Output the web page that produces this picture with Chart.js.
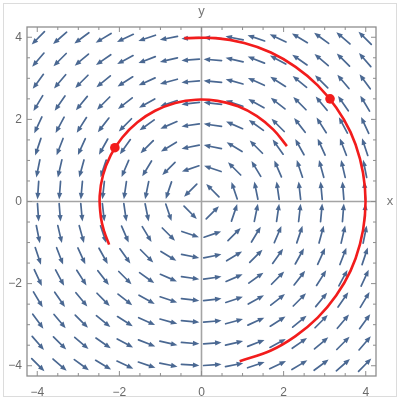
<!DOCTYPE html>
<html>
<head>
<meta charset="utf-8">
<script src="https://cdn.jsdelivr.net/npm/chart.js@4"></script>
<style>
  html, body { margin: 0; padding: 0; background: #fff; }
  #wrap { width: 400px; height: 400px; }
</style>
</head>
<body>
<div id="wrap"><canvas id="chart"></canvas></div>
<script>
// ---- data ----
var gridPos = [-3.98, -3.45, -2.92, -2.39, -1.86, -1.33, -0.80, -0.27, 0.27, 0.80, 1.33, 1.86, 2.39, 2.92, 3.45, 3.98];
var tickValues = [-4, -2, 0, 2, 4];
var minorStep = 0.5;
var axisMin = -4.25, axisMax = 4.25;

var outerX = [-0.42, 0.35, 1.04, 1.69, 2.29, 2.83, 3.28, 3.63, 3.86, 3.98, 3.98, 3.86, 3.63, 3.28, 2.83, 2.29, 1.69, 0.93];
var outerY = [3.98, 3.98, 3.86, 3.63, 3.28, 2.83, 2.29, 1.69, 1.04, 0.35, -0.35, -1.04, -1.69, -2.29, -2.83, -3.28, -3.63, -3.89];
var innerX = [2.08, 1.75, 1.35, 0.89, 0.39, -0.13, -0.64, -1.13, -1.56, -1.93, -2.21, -2.40, -2.48, -2.45, -2.37, -2.25];
var innerY = [1.35, 1.75, 2.08, 2.32, 2.45, 2.48, 2.40, 2.21, 1.93, 1.56, 1.13, 0.64, 0.13, -0.39, -0.73, -1.05];
var dotX = [3.13, -2.11];
var dotY = [2.50, 1.31];

// vector field shown by the arrows: rotation about the origin
function field(x, y) { return [-y, x]; }

function pts(xs, ys) { return xs.map(function(x, i) { return { x: x, y: ys[i] }; }); }
var gridPts = [];
gridPos.forEach(function(gy) { gridPos.forEach(function(gx) { gridPts.push({ x: gx, y: gy }); }); });

var ARROW = '#4a6892', RED = '#f21c1c', FRAME = '#8e8e8e', LABEL = '#6a6a6a';
var fmt = function(v) { return v < 0 ? '\u2212' + Math.abs(v) : '' + v; };

var decor = {
    id: 'decor',
    beforeDraw: function(c) {
        var ctx = c.ctx;
        ctx.save();
        ctx.fillStyle = '#fff';
        ctx.fillRect(0, 0, c.width, c.height);
        ctx.strokeStyle = '#dcdcdc';
        ctx.lineWidth = 1;
        ctx.strokeRect(3.5, 3.5, 393, 393);
        ctx.restore();
    },
    beforeDatasetsDraw: function(c) {
        var ctx = c.ctx, a = c.chartArea, xs = c.scales.x, ys = c.scales.y;
        ctx.save();
        // axes through origin
        ctx.strokeStyle = '#a4a4a4';
        ctx.lineWidth = 1.6;
        ctx.beginPath();
        ctx.moveTo(a.left, ys.getPixelForValue(0)); ctx.lineTo(a.right, ys.getPixelForValue(0));
        ctx.moveTo(xs.getPixelForValue(0), a.top); ctx.lineTo(xs.getPixelForValue(0), a.bottom);
        ctx.stroke();
        // frame
        ctx.strokeStyle = FRAME;
        ctx.lineWidth = 1.3;
        ctx.strokeRect(a.left, a.top, a.right - a.left, a.bottom - a.top);
        // inward ticks, major at labels, minor every 0.5
        ctx.lineWidth = 1;
        ctx.beginPath();
        for (var v = -4; v <= 4.001; v += minorStep) {
            var len = tickValues.indexOf(Math.round(v * 10) / 10) >= 0 ? 5 : 3;
            var px = xs.getPixelForValue(v), py = ys.getPixelForValue(v);
            ctx.moveTo(px, a.bottom); ctx.lineTo(px, a.bottom - len);
            ctx.moveTo(px, a.top); ctx.lineTo(px, a.top + len);
            ctx.moveTo(a.left, py); ctx.lineTo(a.left + len, py);
            ctx.moveTo(a.right, py); ctx.lineTo(a.right - len, py);
        }
        ctx.stroke();
        // axis names
        ctx.fillStyle = '#777';
        ctx.font = '13px "Liberation Sans", Arial, sans-serif';
        ctx.textAlign = 'center';
        ctx.textBaseline = 'middle';
        ctx.fillText('x', 390, ys.getPixelForValue(0));
        ctx.fillText('y', xs.getPixelForValue(0), 11);
        // arrows of the field
        var meta = c.getDatasetMeta(0), L = 18, hl = 6.5, hw = 2.6;
        ctx.strokeStyle = ARROW;
        ctx.fillStyle = ARROW;
        ctx.lineWidth = 1.7;
        ctx.lineCap = 'round';
        meta.data.forEach(function(el, i) {
            var p = c.data.datasets[0].data[i];
            var f = field(p.x, p.y);
            var dx = f[0], dy = -f[1], n = Math.hypot(dx, dy);
            if (!n) return;
            dx /= n; dy /= n;
            var tx = el.x - dx * L / 2, ty = el.y - dy * L / 2;
            var hx = el.x + dx * L / 2, hy = el.y + dy * L / 2;
            ctx.beginPath();
            ctx.moveTo(tx, ty);
            ctx.lineTo(hx - dx * hl * 0.7, hy - dy * hl * 0.7);
            ctx.stroke();
            var bx = hx - dx * hl, by = hy - dy * hl;
            ctx.beginPath();
            ctx.moveTo(hx, hy);
            ctx.lineTo(bx - dy * hw, by + dx * hw);
            ctx.lineTo(bx + dy * hw, by - dx * hw);
            ctx.closePath();
            ctx.fill();
        });
        ctx.restore();
    }
};

new Chart(document.getElementById('chart'), {
    type: 'scatter',
    data: {
        datasets: [
            { data: gridPts, pointRadius: 0, pointHoverRadius: 0 },
            { data: pts(outerX, outerY), showLine: true, borderColor: RED, borderWidth: 2.6, pointRadius: 0, tension: 0.4, fill: false },
            { data: pts(innerX, innerY), showLine: true, borderColor: RED, borderWidth: 2.6, pointRadius: 0, tension: 0.4, fill: false },
            { data: pts(dotX, dotY), pointRadius: 4.8, backgroundColor: RED, borderColor: RED, borderWidth: 0 }
        ]
    },
    options: {
        responsive: true, maintainAspectRatio: false, animation: false,
        events: [],
        layout: { padding: { top: 27, right: 24, left: 0, bottom: 0 } },
        plugins: { legend: { display: false }, tooltip: { enabled: false } },
        scales: {
            x: {
                type: 'linear', min: axisMin, max: axisMax,
                afterBuildTicks: function(s) { s.ticks = tickValues.map(function(v) { return { value: v }; }); },
                afterFit: function(s) { s.height = 24; },
                grid: { display: false, drawTicks: false },
                border: { display: false },
                ticks: { padding: 9, color: LABEL, font: { size: 12, family: '"Liberation Sans", Arial, sans-serif' }, callback: fmt, maxRotation: 0 }
            },
            y: {
                type: 'linear', min: axisMin, max: axisMax,
                afterBuildTicks: function(s) { s.ticks = tickValues.map(function(v) { return { value: v }; }); },
                afterFit: function(s) { s.width = 27; },
                grid: { display: false, drawTicks: false },
                border: { display: false },
                ticks: { padding: 5, color: LABEL, font: { size: 12, family: '"Liberation Sans", Arial, sans-serif' }, callback: fmt }
            }
        }
    },
    plugins: [decor]
});
</script>
</body>
</html>
